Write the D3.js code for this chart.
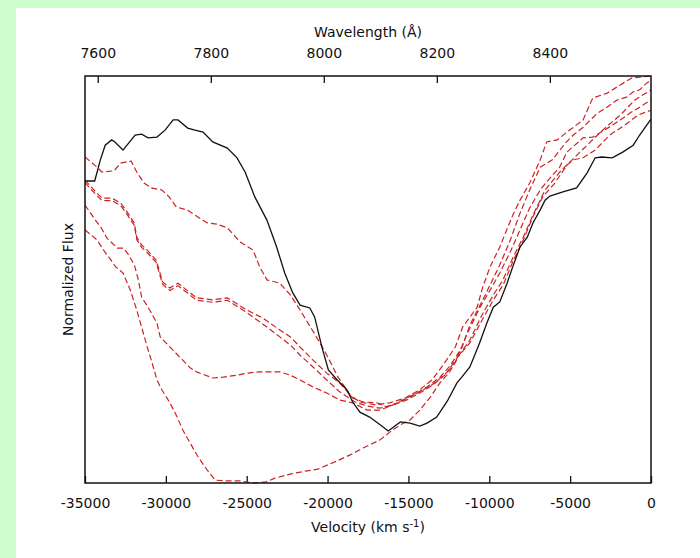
<!DOCTYPE html>
<html>
<head>
<meta charset="utf-8">
<script src="https://cdn.jsdelivr.net/npm/d3@7"></script>
<style>
  body { margin: 0; background: #cdfccd; }
  svg { display: block; }
  text { font-family: "DejaVu Sans", Arial, sans-serif; fill: #111; }
</style>
</head>
<body>
<div id="chart"></div>
<script>
// velocity (km/s) and normalized flux
var blackVel = [-35000,-34400,-34050,-33750,-33350,-33150,-32650,-31900,-31500,-31100,-30550,-30050,-29550,-29250,-28650,-28200,-27700,-27100,-26200,-25600,-25100,-24500,-23750,-23150,-22650,-22150,-21700,-21100,-20800,-20350,-19950,-19400,-18800,-18450,-18000,-17400,-16750,-16250,-15500,-14900,-14300,-13850,-13250,-12600,-12000,-11700,-11200,-10600,-10150,-9750,-9350,-8900,-8550,-8100,-7650,-7300,-6850,-6550,-6250,-5450,-4600,-3950,-3450,-3050,-2400,-1750,-1100,-700,-250,0];
var blackFlux = [0.742,0.742,0.794,0.830,0.843,0.838,0.818,0.855,0.857,0.848,0.850,0.867,0.892,0.892,0.872,0.867,0.862,0.838,0.823,0.799,0.764,0.703,0.646,0.580,0.516,0.467,0.437,0.430,0.408,0.334,0.278,0.253,0.229,0.199,0.174,0.162,0.143,0.128,0.150,0.147,0.140,0.147,0.162,0.201,0.246,0.260,0.285,0.344,0.393,0.432,0.445,0.491,0.531,0.580,0.604,0.639,0.671,0.695,0.705,0.715,0.725,0.762,0.799,0.801,0.799,0.813,0.830,0.855,0.880,0.894];

var redAVel = [-35000,-34250,-33950,-33200,-32800,-32150,-31800,-31350,-30900,-30250,-29800,-29350,-28700,-27450,-26850,-26200,-25400,-24600,-24200,-23750,-22950,-22300,-21700,-20950,-20150,-19350,-18600,-18000,-17050,-16150,-15200,-14300,-13550,-12850,-12100,-11650,-10750,-10400,-9950,-9350,-8550,-8100,-7500,-6850,-6450,-5800,-5200,-4200,-3600,-2700,-1900,-1200,0];
var redAFlux = [0.801,0.776,0.764,0.767,0.786,0.791,0.764,0.737,0.725,0.720,0.703,0.678,0.671,0.639,0.636,0.627,0.592,0.572,0.531,0.499,0.491,0.462,0.425,0.376,0.322,0.260,0.216,0.199,0.192,0.197,0.209,0.229,0.253,0.290,0.334,0.383,0.432,0.482,0.531,0.580,0.658,0.695,0.737,0.794,0.838,0.843,0.862,0.892,0.946,0.958,0.978,0.995,1.000];

var redBVel = [-35000,-34450,-33950,-33350,-32800,-32400,-31950,-31800,-31500,-31150,-30600,-30200,-29750,-29250,-28100,-27100,-26200,-25000,-24000,-22950,-22300,-21700,-20900,-20050,-19250,-18450,-17800,-16950,-16350,-15500,-14700,-13850,-13050,-12450,-11700,-11200,-10250,-9350,-8700,-8100,-7500,-6850,-6100,-5300,-4800,-4250,-3750,-3300,-2700,-2100,-1500,-1100,-700,-250,0];
var redBFlux = [0.744,0.720,0.700,0.700,0.688,0.666,0.639,0.604,0.585,0.572,0.548,0.494,0.479,0.491,0.455,0.450,0.455,0.425,0.405,0.376,0.359,0.334,0.302,0.270,0.246,0.209,0.199,0.197,0.187,0.199,0.216,0.236,0.260,0.287,0.332,0.388,0.462,0.536,0.597,0.663,0.720,0.776,0.794,0.835,0.855,0.872,0.892,0.909,0.924,0.941,0.948,0.961,0.966,0.983,0.990];

var redCVel = [-35000,-34450,-34000,-33650,-33000,-32600,-32300,-31950,-31700,-31500,-31000,-30550,-30350,-29750,-29150,-28500,-28100,-27100,-26450,-25600,-25000,-24200,-22950,-22300,-21700,-20900,-20050,-19250,-18450,-17550,-16750,-15950,-15100,-14300,-13350,-12600,-11950,-11200,-10450,-9750,-9150,-8550,-7900,-7300,-6700,-5950,-5200,-4800,-4200,-3450,-2550,-1600,-800,0];
var redCFlux = [0.683,0.651,0.627,0.602,0.577,0.577,0.560,0.536,0.499,0.457,0.425,0.393,0.359,0.334,0.310,0.283,0.273,0.258,0.260,0.265,0.270,0.273,0.273,0.265,0.253,0.236,0.221,0.204,0.197,0.179,0.179,0.192,0.209,0.224,0.246,0.273,0.310,0.344,0.400,0.450,0.486,0.543,0.597,0.654,0.703,0.737,0.781,0.794,0.799,0.818,0.855,0.880,0.904,0.916];

var redDVel = [-35000,-34250,-33850,-33400,-33100,-32650,-32200,-31800,-31500,-31150,-30850,-30550,-30250,-29750,-29300,-28950,-28500,-28000,-27450,-26950,-26200,-25400,-24600,-23850,-23250,-22300,-21400,-20600,-19550,-18600,-17800,-16750,-16150,-15500,-14900,-14300,-13650,-13050,-12450,-11800,-11200,-10450,-9750,-9150,-8550,-7900,-7300,-6550,-5650,-4700,-3750,-2850,-1900,-1000,0];
var redDFlux = [0.622,0.597,0.572,0.548,0.531,0.516,0.474,0.425,0.383,0.334,0.295,0.253,0.229,0.197,0.162,0.130,0.098,0.064,0.032,0.007,0.005,0.005,0.000,0.002,0.012,0.022,0.029,0.034,0.052,0.069,0.086,0.106,0.125,0.143,0.155,0.179,0.211,0.246,0.273,0.318,0.351,0.413,0.462,0.499,0.553,0.604,0.658,0.720,0.764,0.801,0.838,0.872,0.904,0.941,0.966];

var redEVel = [-35000,-34450,-33950,-33350,-32800,-32400,-31950,-31800,-31500,-31150,-30600,-30200,-29750,-29250,-28100,-27100,-26200,-25000,-23850,-22950,-22300,-21700,-20900,-20050,-19250,-18300,-17550,-16750,-15950,-15100,-14300,-13500,-12750,-12100,-11400,-10600,-9950,-9350,-8700,-8100,-7500,-6850,-6450,-5650,-5200,-4200,-3600,-2550,-1900,-1300,-800,0];
var redEFlux = [0.738,0.714,0.694,0.694,0.682,0.660,0.633,0.598,0.579,0.566,0.542,0.488,0.473,0.485,0.449,0.444,0.449,0.419,0.386,0.359,0.339,0.314,0.285,0.253,0.224,0.199,0.189,0.184,0.192,0.204,0.221,0.241,0.265,0.297,0.364,0.430,0.474,0.516,0.568,0.622,0.676,0.720,0.740,0.776,0.813,0.848,0.850,0.875,0.892,0.909,0.921,0.941];

var velTicks = [-35000,-30000,-25000,-20000,-15000,-10000,-5000,0];
var waveTicks = [7600,7800,8000,8200,8400];
var restWave = 8579;   // Ca II IR triplet, km/s -> Angstrom
var c = 299792;

var svgWidth = 700;
var svgHeight = 558;
var margin = {top: 76, right: 49, bottom: 75, left: 85};
var width = svgWidth - margin.left - margin.right;
var height = svgHeight - margin.top - margin.bottom;

var svg = d3.select("#chart")
  .append("svg")
    .attr("width", svgWidth)
    .attr("height", svgHeight);

// white panel on the green page
svg.append("rect")
  .attr("x", 16).attr("y", 8)
  .attr("width", svgWidth - 16).attr("height", svgHeight - 8)
  .attr("fill", "#fff");

var chartGroup = svg.append("g")
  .attr("transform", `translate(${margin.left}, ${margin.top})`);

var xScale = d3.scaleLinear().domain([-35000, 0]).range([0, width]);
var waveScale = d3.scaleLinear()
  .domain([restWave * (1 - 35000 / c), restWave])
  .range([0, width]);
var yScale = d3.scaleLinear().domain([0, 1]).range([height, 0]);

var xAxis = d3.axisBottom(xScale).tickValues(velTicks)
  .tickSizeInner(-7).tickSizeOuter(0).tickPadding(15)
  .tickFormat(d => String(d));
var topAxis = d3.axisTop(waveScale).tickValues(waveTicks)
  .tickSizeInner(-7).tickSizeOuter(0).tickPadding(18)
  .tickFormat(d => String(d));

var gx = chartGroup.append("g")
  .attr("transform", `translate(0, ${height})`)
  .call(xAxis);
var gt = chartGroup.append("g").call(topAxis);

[gx, gt].forEach(function(g) {
  g.select(".domain").remove();
  g.selectAll(".tick line").attr("stroke", "#111").attr("stroke-width", 1.3);
  g.selectAll(".tick text")
    .attr("font-family", "DejaVu Sans, Arial, sans-serif")
    .attr("font-size", 14)
    .attr("fill", "#111");
});

var line = d3.line()
  .x(d => xScale(d[0]))
  .y(d => yScale(d[1]));

function pairs(v, f) { return v.map((d, i) => [d, f[i]]); }

var redSeries = [
  pairs(redAVel, redAFlux),
  pairs(redBVel, redBFlux),
  pairs(redCVel, redCFlux),
  pairs(redDVel, redDFlux),
  pairs(redEVel, redEFlux)
];

chartGroup.append("clipPath").attr("id", "clip")
  .append("rect").attr("width", width).attr("height", height + 1);

var plot = chartGroup.append("g").attr("clip-path", "url(#clip)");

plot.selectAll(".red")
  .data(redSeries)
  .enter()
  .append("path")
    .attr("class", "red")
    .attr("d", line)
    .attr("fill", "none")
    .attr("stroke", "#cc2222")
    .attr("stroke-width", 1.2)
    .attr("stroke-dasharray", "6,3");

plot.append("path")
  .datum(pairs(blackVel, blackFlux))
  .attr("d", line)
  .attr("fill", "none")
  .attr("stroke", "#111")
  .attr("stroke-width", 1.3);

// frame
chartGroup.append("rect")
  .attr("width", width).attr("height", height)
  .attr("fill", "none")
  .attr("stroke", "#111")
  .attr("stroke-width", 1.5);

// axis titles
chartGroup.append("text")
  .attr("x", width / 2).attr("y", -39)
  .attr("text-anchor", "middle")
  .attr("font-size", 14)
  .text("Wavelength (Å)");

var vt = chartGroup.append("text")
  .attr("x", width / 2).attr("y", height + 49)
  .attr("text-anchor", "middle")
  .attr("font-size", 14);
vt.append("tspan").text("Velocity (km s");
vt.append("tspan").attr("font-size", 10).attr("dy", -5).text("-1");
vt.append("tspan").attr("dy", 5).text(")");

chartGroup.append("text")
  .attr("transform", `translate(-12, ${height / 2}) rotate(-90)`)
  .attr("text-anchor", "middle")
  .attr("font-size", 14)
  .text("Normalized Flux");
</script>
</body>
</html>
